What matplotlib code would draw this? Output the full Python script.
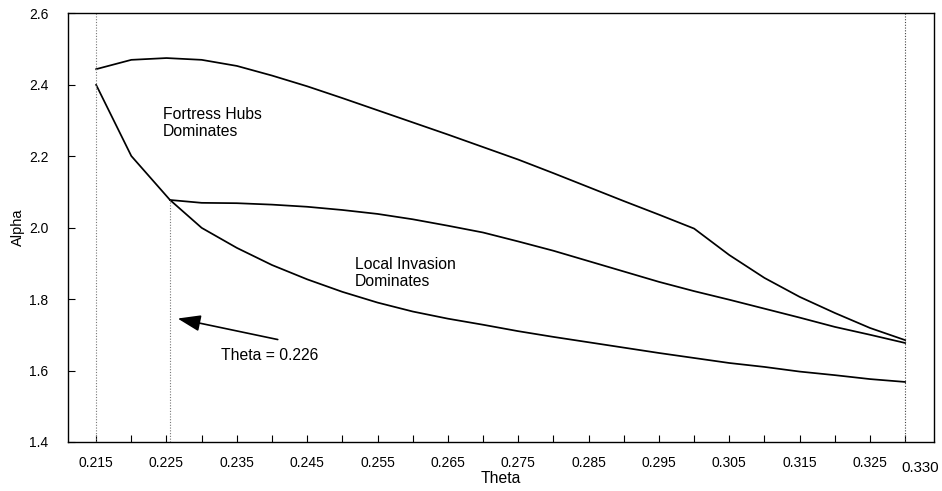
import numpy as np
import matplotlib.pyplot as plt
import matplotlib.transforms as mtransforms

plt.rcParams['font.family'] = ['Liberation Sans', 'DejaVu Sans']

# upper boundary (Fortress Hubs region top)
theta_upper = [0.215, 0.220, 0.225, 0.230, 0.235, 0.240, 0.245, 0.250, 0.255, 0.260,
               0.265, 0.270, 0.275, 0.280, 0.285, 0.290, 0.295, 0.300, 0.305, 0.310,
               0.315, 0.320, 0.325, 0.330]
alpha_upper = [2.443, 2.469, 2.474, 2.469, 2.452, 2.425, 2.395, 2.362, 2.328, 2.294,
               2.260, 2.225, 2.190, 2.152, 2.113, 2.074, 2.036, 1.997, 1.923, 1.859,
               1.806, 1.761, 1.719, 1.685]

# middle boundary, starts at theta = 0.226
theta_mid = [0.2255, 0.230, 0.235, 0.240, 0.245, 0.250, 0.255, 0.260, 0.265, 0.270,
             0.275, 0.280, 0.285, 0.290, 0.295, 0.300, 0.305, 0.310, 0.315, 0.320,
             0.325, 0.330]
alpha_mid = [2.077, 2.069, 2.068, 2.064, 2.058, 2.049, 2.038, 2.023, 2.005, 1.986,
             1.961, 1.935, 1.906, 1.877, 1.848, 1.822, 1.798, 1.773, 1.748, 1.722,
             1.700, 1.677]

# lower boundary
theta_low = [0.215, 0.220, 0.2255, 0.230, 0.235, 0.240, 0.245, 0.250, 0.255, 0.260,
             0.265, 0.270, 0.275, 0.280, 0.285, 0.290, 0.295, 0.300, 0.305, 0.310,
             0.315, 0.320, 0.325, 0.330]
alpha_low = [2.399, 2.200, 2.077, 1.999, 1.943, 1.895, 1.855, 1.820, 1.790, 1.765,
             1.745, 1.728, 1.710, 1.694, 1.679, 1.664, 1.649, 1.635, 1.621, 1.610,
             1.597, 1.587, 1.576, 1.568]

xtick_major = [0.215, 0.225, 0.235, 0.245, 0.255, 0.265, 0.275, 0.285, 0.295, 0.305, 0.315, 0.325]
yticks = [1.4, 1.6, 1.8, 2.0, 2.2, 2.4, 2.6]

fig = plt.figure(figsize=(9.42, 4.91), dpi=100)
ax = fig.add_axes([0.0722, 0.0998, 0.9193, 0.8737])

ax.plot(theta_upper, alpha_upper, color='black', lw=1.25)
ax.plot(theta_mid, alpha_mid, color='black', lw=1.25)
ax.plot(theta_low, alpha_low, color='black', lw=1.25)

# dotted verticals
ax.axvline(0.215, color='#777777', lw=0.8, ls=(0, (1, 1.5)))
ax.axvline(0.330, color='#444444', lw=0.8, ls=(0, (1, 1.5)))
ax.plot([0.2255, 0.2255], [1.4, 2.077], color='#777777', lw=0.8, ls=(0, (1, 1.5)))

ax.set_xlim(0.211, 0.3341)
ax.set_ylim(1.4, 2.6)

all_ticks = np.arange(0.215, 0.3301, 0.005)
major_ms = [round(v * 1000) for v in xtick_major]
ax.set_xticks(all_ticks)
ax.set_xticklabels([f'{t:.3f}' if round(t * 1000) in major_ms else '' for t in all_ticks], fontsize=10)
ax.set_yticks(yticks)
ax.set_yticklabels([f'{v:.1f}' for v in yticks], fontsize=10)
ax.tick_params(direction='in', length=5, width=0.8)
ax.tick_params(axis='x', pad=10)
ax.tick_params(axis='y', pad=14)

trans = mtransforms.blended_transform_factory(ax.transData, ax.transAxes)
ax.text(0.3321, -0.045, '0.330', transform=trans, ha='center', va='top', fontsize=10.8)

for s in ax.spines.values():
    s.set_linewidth(1.0)

ax.set_xlabel('Theta', fontsize=11.3, labelpad=1)
ax.set_ylabel('Alpha', fontsize=10.5, labelpad=3)

ax.text(0.2245, 2.292, 'Fortress Hubs\nDominates', fontsize=11.3, ha='left', va='center', linespacing=1.15)
ax.text(0.2518, 1.872, 'Local Invasion\nDominates', fontsize=11.3, ha='left', va='center', linespacing=1.15)
ax.text(0.2327, 1.643, 'Theta = 0.226', fontsize=11.3, ha='left', va='center')

ax.annotate('', xy=(0.2262, 1.747), xytext=(0.2412, 1.685),
            arrowprops=dict(arrowstyle='-|>,head_length=1.4,head_width=0.5', color='black', lw=1.2))

fig.savefig('out.png', dpi=100)
